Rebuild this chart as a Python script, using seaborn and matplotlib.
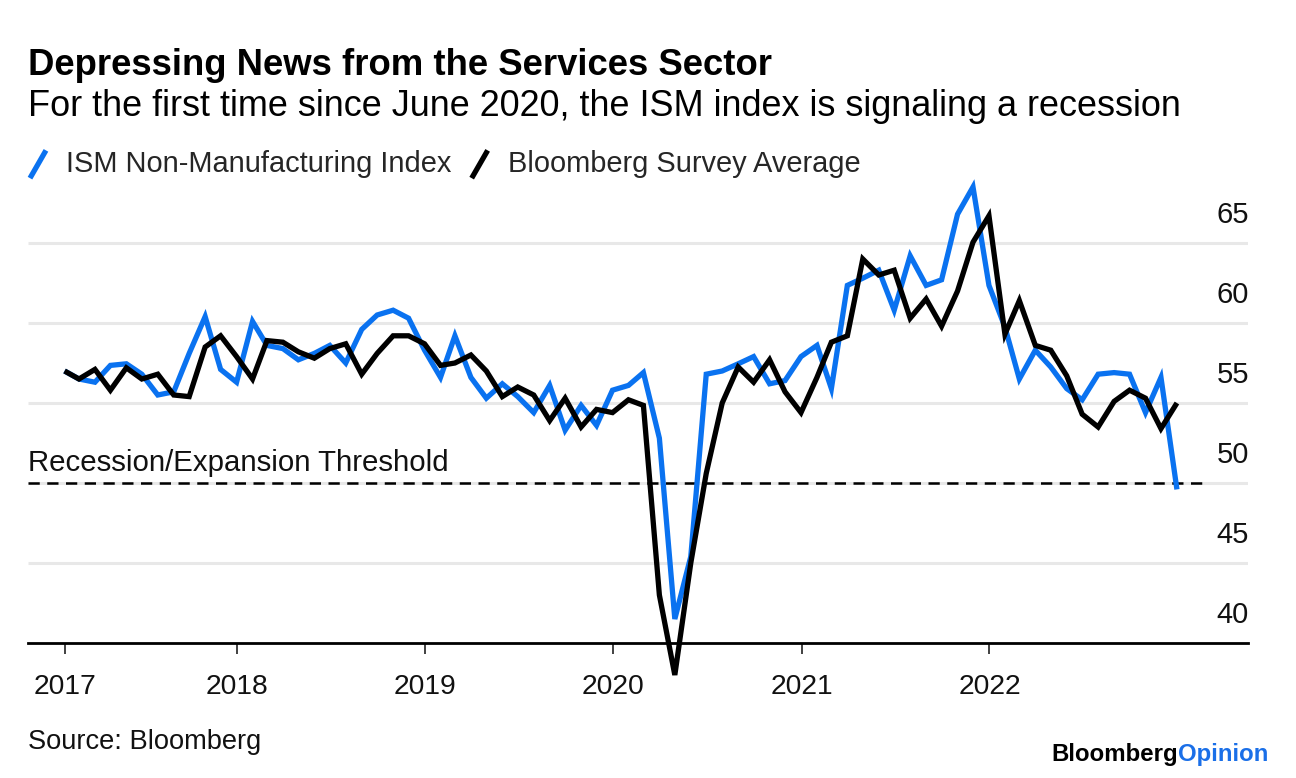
import numpy as np
import pandas as pd
import matplotlib
matplotlib.use("Agg")
import matplotlib.pyplot as plt
import matplotlib.transforms as mtransforms
from matplotlib.lines import Line2D
from matplotlib.legend_handler import HandlerBase
import seaborn as sns

# ---------------- data ----------------
dates = pd.date_range("2017-01-31", periods=72, freq="ME")

ism_values = [
    57.0, 56.5, 56.3, 57.35, 57.45, 56.8, 55.5, 55.7, 58.1, 60.4, 57.1, 56.3,    # 2017
    60.1, 58.6, 58.4, 57.7, 58.1, 58.6, 57.5, 59.6, 60.5, 60.8, 60.3, 58.3,      # 2018
    56.6, 59.2, 56.6, 55.3, 56.2, 55.4, 54.4, 56.1, 53.3, 54.85, 53.6, 55.8,     # 2019
    56.1, 56.9, 52.8, 41.5, 45.4, 56.8, 57.0, 57.45, 57.9, 56.2, 56.4, 57.9,     # 2020
    58.6, 55.9, 62.35, 62.8, 63.3, 60.8, 64.2, 62.35, 62.7, 66.8, 68.5, 62.35,   # 2021
    59.75, 56.5, 58.3, 57.25, 55.9, 55.2, 56.8, 56.9, 56.8, 54.4, 56.6, 49.6,    # 2022
]

survey_values = [
    57.0, 56.5, 57.1, 55.8, 57.2, 56.5, 56.8, 55.5, 55.4, 58.5, 59.2, 57.9,      # 2017
    56.5, 58.9, 58.8, 58.2, 57.8, 58.4, 58.7, 56.8, 58.1, 59.2, 59.2, 58.7,      # 2018
    57.35, 57.5, 58.0, 57.0, 55.4, 56.0, 55.5, 53.9, 55.3, 53.5, 54.6, 54.4,     # 2019
    55.2, 54.85, 43.0, 38.0, 45.0, 50.6, 55.0, 57.25, 56.3, 57.7, 55.7, 54.4,    # 2020
    56.6, 58.8, 59.2, 64.0, 63.0, 63.3, 60.3, 61.5, 59.8, 62.0, 65.05, 66.7,     # 2021
    59.3, 61.4, 58.6, 58.3, 56.7, 54.3, 53.5, 55.1, 55.8, 55.3, 53.4, 55.0,      # 2022
]

series_names = ["ISM Non-Manufacturing Index", "Bloomberg Survey Average"]
year_labels = ["2017", "2018", "2019", "2020", "2021", "2022"]
y_ticks = [45, 50, 55, 60, 65]
y_labels = ["40", "45", "50", "55", "60", "65"]
threshold = 50

BLUE = "#0a72f0"
BLACK = "#000000"
GRID = "#e8e8e8"

df = pd.DataFrame({
    "date": np.concatenate([dates, dates]),
    "value": ism_values + survey_values,
    "series": [series_names[0]] * len(dates) + [series_names[1]] * len(dates),
})

# ---------------- style ----------------
sns.set_theme(style="white")
plt.rcParams["font.family"] = ["Liberation Sans", "DejaVu Sans"]
plt.rcParams["lines.solid_joinstyle"] = "miter"
plt.rcParams["lines.solid_capstyle"] = "butt"

W, H = 1296, 778
fig = plt.figure(figsize=(W / 100, H / 100), dpi=100)
fig.patch.set_facecolor("white")

ax_left, ax_right, ax_bottom, ax_top = 28, 1248, 643, 203
ax = fig.add_axes([ax_left / W, 1 - ax_bottom / H,
                   (ax_right - ax_left) / W, (ax_bottom - ax_top) / H])
ax.set_facecolor("white")

sns.lineplot(data=df, x="date", y="value", hue="series", hue_order=series_names,
             palette={series_names[0]: BLUE, series_names[1]: BLACK},
             linewidth=3.8, legend=False, ax=ax, zorder=3)
for ln in ax.lines:
    ln.set_clip_on(False)

# limits
ax.set_ylim(40, 67.5)
ax.set_xlim(pd.Timestamp("2016-11-21"), pd.Timestamp("2023-05-18"))

# gridlines
ax.set_yticks(y_ticks)
ax.yaxis.grid(True, color=GRID, linewidth=2.2)
ax.xaxis.grid(False)
ax.tick_params(axis="y", left=False, right=False, labelleft=False, labelright=False)

# y labels above gridlines, right aligned
offset = mtransforms.ScaledTranslation(1 / 100, 28 / 100, fig.dpi_scale_trans)
trans = mtransforms.blended_transform_factory(ax.transAxes, ax.transData) + offset
for v, lab in zip([40] + y_ticks, y_labels):
    ax.text(1.0, v, lab, transform=trans, ha="right", va="center",
            fontsize=21, color="#111111")

# threshold
ax.axhline(threshold, xmin=0, xmax=(1206 - ax_left) / (ax_right - ax_left),
           color=BLACK, linewidth=1.8, dashes=(4.5, 3.0), zorder=2)
ax.text(0.0, 50.72, "Recession/Expansion Threshold",
        transform=mtransforms.blended_transform_factory(ax.transAxes, ax.transData),
        ha="left", va="baseline", fontsize=21.2, color="#111111")

# x axis
tick_dates = [dates[0]] + [pd.Timestamp(f"{y}-01-01") for y in range(2018, 2023)]
ax.set_xticks(tick_dates)
ax.set_xticklabels(year_labels)
ax.tick_params(axis="x", bottom=True, length=8, width=1.3, color="#333333",
               pad=14, labelsize=20.3, labelcolor="#111111")
for s in ["top", "right", "left"]:
    ax.spines[s].set_visible(False)
ax.spines["bottom"].set_color(BLACK)
ax.spines["bottom"].set_linewidth(2.0)
ax.set_xlabel("")
ax.set_ylabel("")

# ---------------- titles ----------------
fig.text(28 / W, 1 - 75 / H, "Depressing News from the Services Sector",
         fontsize=26.3, fontweight="bold", ha="left", va="baseline", color="#000000")
fig.text(28 / W, 1 - 116 / H,
         "For the first time since June 2020, the ISM index is signaling a recession",
         fontsize=25.9, ha="left", va="baseline", color="#000000")

# ---------------- legend ----------------
class DiagHandler(HandlerBase):
    def create_artists(self, legend, orig_handle, xdescent, ydescent, width,
                       height, fontsize, trans):
        x0, y0 = -xdescent, -ydescent
        line = Line2D([x0, x0 + width], [y0 - height * 0.2, y0 + height * 1.0],
                      color=orig_handle.get_color(), linewidth=3.8,
                      solid_capstyle="butt", transform=trans)
        return [line]

handles = [Line2D([], [], color=BLUE), Line2D([], [], color=BLACK)]
leg = fig.legend(handles, series_names, loc="upper left",
                 bbox_to_anchor=(30 / W, 1 - 150 / H), ncol=2, frameon=False,
                 fontsize=20.9, handler_map={Line2D: DiagHandler()},
                 handlelength=0.55, handleheight=0.85, handletextpad=0.7,
                 columnspacing=0.69, borderpad=0, borderaxespad=0)

# ---------------- footer ----------------
fig.text(28 / W, 1 - 749 / H, "Source: Bloomberg", fontsize=19.6,
         ha="left", va="baseline", color="#111111")

renderer = fig.canvas.get_renderer()
t_op = fig.text(1268 / W, 1 - 761 / H, "Opinion", fontsize=17.3, fontweight="bold",
                ha="right", va="baseline", color="#1a6fe8")
bb = t_op.get_window_extent(renderer)
fig.text(bb.x0 / W, 1 - 761 / H, "Bloomberg", fontsize=17.3, fontweight="bold",
         ha="right", va="baseline", color="#000000")

fig.savefig("out.png", dpi=100, facecolor="white")
